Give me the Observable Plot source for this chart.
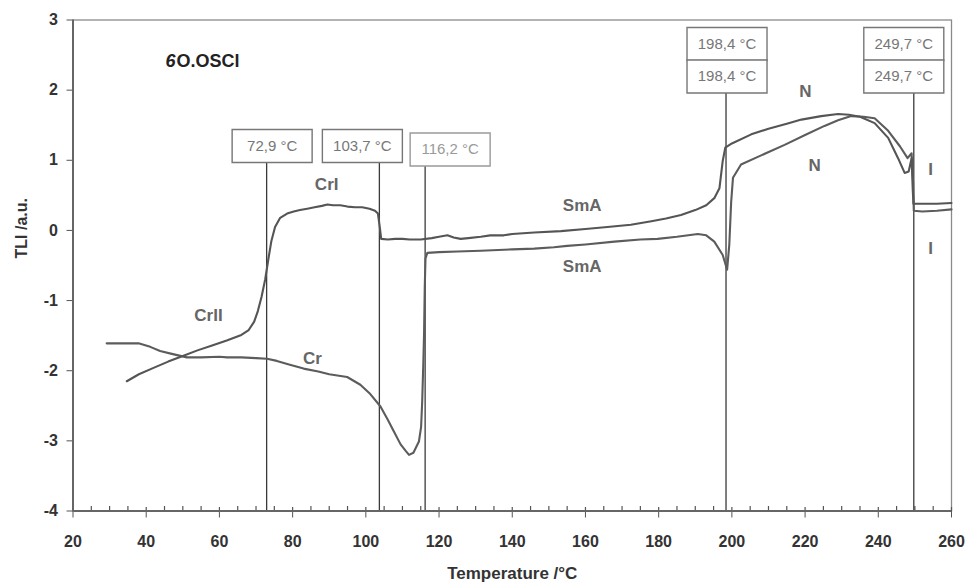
<!DOCTYPE html>
<html>
<head>
<meta charset="utf-8">
<script src="https://cdn.jsdelivr.net/npm/d3@7"></script>
<script src="https://cdn.jsdelivr.net/npm/@observablehq/plot@0.6"></script>
<style>
  html, body { margin: 0; padding: 0; background: #fff; }
  #chart { width: 967px; height: 583px; }
</style>
</head>
<body>
<div id="chart"></div>
<script>
// ---- Data ----
// Curve A (upper trace at left: CrII -> CrI -> SmA -> N -> I)
const tempA = [34.7,38,42,46,50,54,58,62,66,68,69.5,70.5,71.5,72.5,73.4,74.2,75.2,76.6,78.5,80.3,82,84,86,88,89.5,91,93,95,97,99,101,102.5,103.3,103.8,104.2,106,108,110,112,115,118,120,122.3,124,125.9,128,131.4,134,137.7,140,146,153.3,160,166,172.4,178,182,186.1,190,193,195.2,196.6,197.5,198.2,200,205.3,210,215,219,224.4,229,232,235,239,242.7,245.4,247.2,248.3,249.1,249.4,249.6,252,256,260];
const tliA  = [-2.15,-2.05,-1.96,-1.87,-1.79,-1.71,-1.64,-1.57,-1.49,-1.42,-1.3,-1.15,-0.95,-0.7,-0.4,-0.15,0.05,0.18,0.24,0.27,0.29,0.31,0.33,0.35,0.37,0.36,0.36,0.34,0.33,0.33,0.31,0.28,0.24,0.05,-0.12,-0.13,-0.12,-0.12,-0.13,-0.13,-0.11,-0.09,-0.07,-0.1,-0.12,-0.11,-0.09,-0.07,-0.07,-0.05,-0.03,-0.01,0.02,0.05,0.08,0.13,0.17,0.22,0.29,0.36,0.46,0.6,0.99,1.18,1.24,1.37,1.45,1.52,1.58,1.63,1.66,1.65,1.62,1.53,1.32,1.03,0.82,0.84,1.03,0.6,0.38,0.38,0.38,0.39];
// Curve B (lower trace at left: Cr -> SmA -> N -> I)
const tempB = [29.2,33,37.9,41.1,43.8,47,51.1,55,60,62.1,66,70,73,75.7,79,83,87,90,94.9,98.5,101,104,106,107.7,109.5,111,111.8,113,114.5,115.1,115.4,115.7,115.9,116.1,116.3,116.8,120,125,131.4,140,146,151.4,155,160,167.9,175,179.7,185,190.7,193,195.2,197.5,198.7,199.3,199.8,200.3,202.5,208,214.4,220,225.3,229,232.6,236,239,242.7,245.9,248,249.1,249.5,249.7,252,256,260];
const tliB  = [-1.61,-1.61,-1.61,-1.66,-1.72,-1.76,-1.81,-1.81,-1.8,-1.81,-1.81,-1.82,-1.83,-1.86,-1.91,-1.97,-2.01,-2.05,-2.09,-2.2,-2.32,-2.51,-2.7,-2.87,-3.05,-3.15,-3.2,-3.17,-3.01,-2.8,-2.44,-1.9,-1.49,-0.8,-0.4,-0.32,-0.31,-0.3,-0.29,-0.27,-0.26,-0.24,-0.22,-0.2,-0.16,-0.13,-0.12,-0.09,-0.05,-0.07,-0.16,-0.35,-0.56,-0.2,0.4,0.75,0.94,1.07,1.22,1.36,1.49,1.57,1.63,1.62,1.6,1.42,1.2,1.03,1.1,0.7,0.28,0.27,0.28,0.3];

const xTicks = [20,40,60,80,100,120,140,160,180,200,220,240,260];
const xMinorTicks = [25,30,35,45,50,55,65,70,75,85,90,95,105,110,115,125,130,135,145,150,155,165,170,175,185,190,195,205,210,215,225,230,235,245,250,255];
const yTicks = [-4,-3,-2,-1,0,1,2,3];

const transitionTemps = [72.9, 103.7, 116.2, 198.4, 198.4, 249.7, 249.7];

const phaseNames = ["CrII","CrI","Cr","SmA","SmA","N","N","I","I"];
const phaseTemp  = [57.0, 89.3, 85.4, 159.1, 159.1, 220.1, 222.6, 254.3, 254.3];
const phaseTli   = [-1.22, 0.66, -1.83, 0.35, -0.51, 1.98, 0.92, 0.87, -0.26];

const sampleName = ["6", "O.OSCl"];
const xTitle = "Temperature /°C";
const yTitle = "TLI /a.u.";

// ---- tables for Plot ----
const curveA = tempA.map((t, i) => ({t, v: tliA[i]}));
const curveB = tempB.map((t, i) => ({t, v: tliB[i]}));
const phases = phaseNames.map((name, i) => ({name, t: phaseTemp[i], v: phaseTli[i]}));
const fmtTemp = t => t.toFixed(1).replace(".", ",") + " °C";

// ---- layout (annotation boxes) ----
const MT = 19.5;
const boxLayout = [
  {dx: 5.5,  cy: 145.5, color: "#777"},
  {dx: -17,  cy: 145.5, color: "#777"},
  {dx: 25,   cy: 149,   color: "#9a9a9a"},
  {dx: 1,    cy: 43.5,  color: "#777"},
  {dx: 1,    cy: 76,    color: "#777"},
  {dx: -10,  cy: 43.5,  color: "#777"},
  {dx: -10,  cy: 76,    color: "#777"}
];
const boxSymbol = {draw(ctx) { ctx.rect(-40, -16.5, 80, 33); }};
const upTick = {draw(ctx) { ctx.moveTo(0, -5); ctx.lineTo(0, 0); }};
const majorUp = {draw(ctx) { ctx.moveTo(0, -4); ctx.lineTo(0, 0); }};

const ruleMarks = [];
const seen = new Set();
transitionTemps.forEach((T, i) => {
  if (seen.has(T)) return;
  seen.add(T);
  ruleMarks.push(Plot.ruleX([T], {x: d => d, stroke: "#3a3a3a", strokeWidth: 1.3, insetTop: boxLayout[i].cy - MT}));
});
const boxMarks = [];
transitionTemps.forEach((T, i) => {
  const L = boxLayout[i];
  boxMarks.push(Plot.dot([T], {x: d => d, frameAnchor: "top", dx: L.dx, dy: L.cy - MT, symbol: boxSymbol, fill: "white", stroke: L.color, strokeWidth: 1.4}));
  boxMarks.push(Plot.text([T], {x: d => d, frameAnchor: "top", dx: L.dx, dy: L.cy - MT, text: d => fmtTemp(d), fill: L.color, fontSize: 15, fontWeight: "normal", lineAnchor: "middle"}));
});

const chart = Plot.plot({
  width: 967,
  height: 583,
  marginLeft: 72.5,
  marginRight: 16,
  marginTop: MT,
  marginBottom: 72.5,
  style: {fontFamily: "'Liberation Sans', Arial, sans-serif", fontWeight: "bold", background: "white", color: "#333"},
  x: {domain: [20, 260]},
  y: {domain: [-4, 3]},
  marks: [
    Plot.frame({stroke: "#8a8a8a", strokeWidth: 1.3}),
    Plot.axisY({ticks: yTicks, tickFormat: d => String(d), tickSize: 6, tickPadding: 9, fontSize: 16, fontWeight: "bold", fill: "#333", stroke: "#555", label: null}),
    Plot.axisX({ticks: xTicks, tickFormat: d => String(d), tickSize: 7, tickPadding: 18, fontSize: 16, fontWeight: "bold", fill: "#333", stroke: "#555", label: null}),
    Plot.dot(xMinorTicks, {x: d => d, frameAnchor: "bottom", symbol: upTick, stroke: "#555", strokeWidth: 1.2, fill: "none"}),
    Plot.dot(xTicks, {x: d => d, frameAnchor: "bottom", symbol: majorUp, stroke: "#555", strokeWidth: 1.2, fill: "none"}),
    ...ruleMarks,
    Plot.line(curveB, {x: "t", y: "v", stroke: "#5c5c5c", strokeWidth: 2.1, curve: "linear"}),
    Plot.line(curveA, {x: "t", y: "v", stroke: "#555", strokeWidth: 2.1, curve: "linear"}),
    ...boxMarks,
    Plot.ruleX([20], {stroke: "#666", strokeWidth: 2}),
    Plot.ruleY([-4], {stroke: "#666", strokeWidth: 2}),
    Plot.text(phases, {x: "t", y: "v", text: "name", fill: "#666", fontSize: 17, fontWeight: "bold"}),
    Plot.text([sampleName[0]], {frameAnchor: "top-left", dx: 165 - 72.5, dy: 61 - MT, text: d => d, textAnchor: "start", lineAnchor: "middle", fontSize: 18, fontWeight: "bold", fontStyle: "italic", fill: "#222"}),
    Plot.text([sampleName[1]], {frameAnchor: "top-left", dx: 176 - 72.5, dy: 61 - MT, text: d => d, textAnchor: "start", lineAnchor: "middle", fontSize: 18, fontWeight: "bold", fill: "#222"}),
    Plot.text([xTitle], {frameAnchor: "bottom", dy: 63, text: d => d, lineAnchor: "middle", fontSize: 17, fontWeight: "bold", fill: "#333"}),
    Plot.text([yTitle], {frameAnchor: "left", dx: -51.5, dy: -7, rotate: -90, text: d => d, lineAnchor: "middle", fontSize: 16, fontWeight: "bold", fill: "#333"})
  ]
});
document.getElementById("chart").appendChild(chart);
</script>
</body>
</html>
